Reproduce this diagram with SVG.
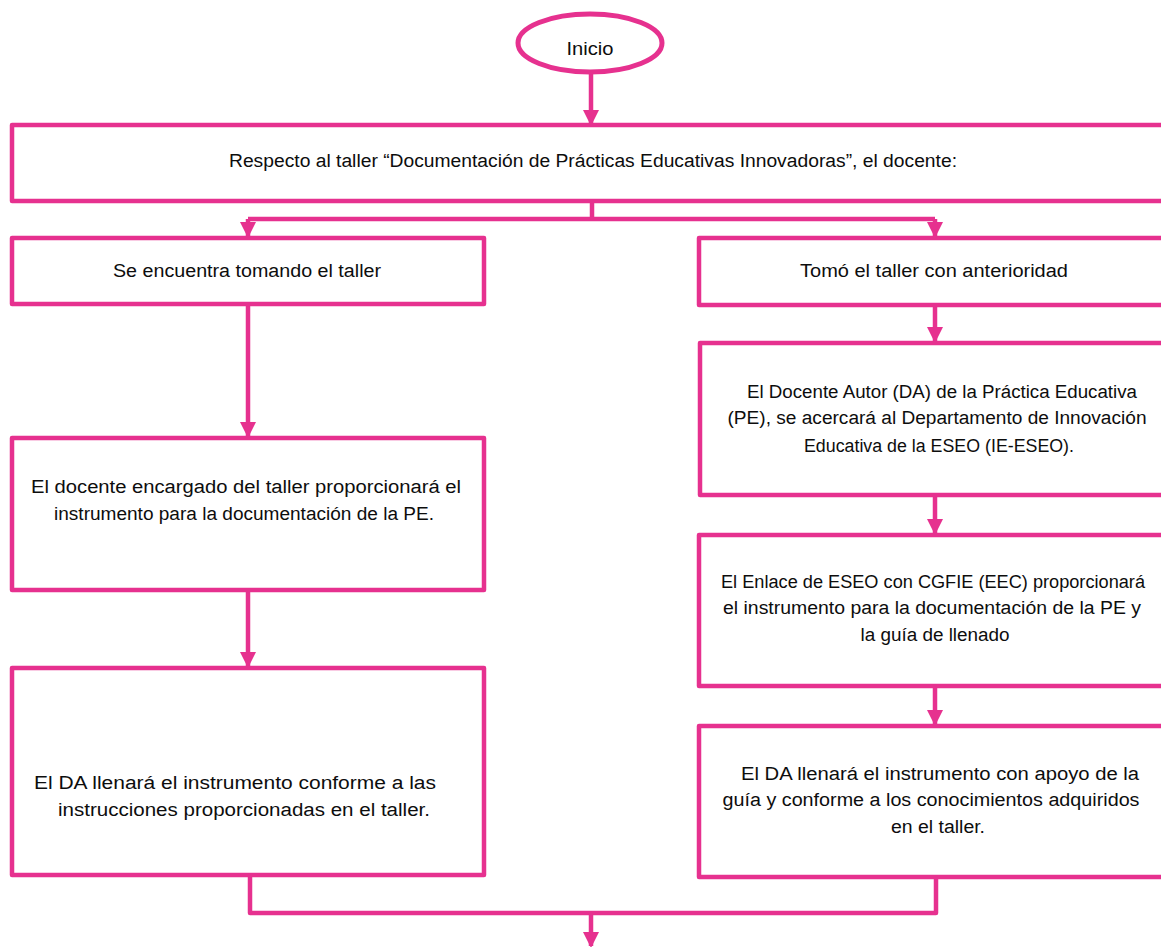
<svg xmlns="http://www.w3.org/2000/svg" width="1161" height="947" viewBox="0 0 1161 947">
<style>
.box{fill:#fff;stroke:#E6318F;stroke-width:4.5;stroke-linejoin:round}
.ln{fill:none;stroke:#E6318F;stroke-width:4.5;stroke-linejoin:round}
text{font-family:"Liberation Sans",Arial,sans-serif;font-size:18px;fill:#0d0d0d;text-anchor:middle}
</style>
<defs>
<marker id="ah" markerUnits="userSpaceOnUse" markerWidth="16" markerHeight="16" refX="14" refY="8" orient="auto" viewBox="0 0 16 16">
<path d="M0,0 L16,8 L0,16 Z" fill="#E6318F"/>
</marker>
</defs>
<rect width="1161" height="947" fill="#fff"/>
<g id="connectors">
<path class="ln" d="M591,73 V124" marker-end="url(#ah)"/>
<path class="ln" d="M592,203 V219"/>
<path class="ln" d="M248,219 H935"/>
<path class="ln" d="M248,219 V236" marker-end="url(#ah)"/>
<path class="ln" d="M935,219 V236" marker-end="url(#ah)"/>
<path class="ln" d="M935,306 V341" marker-end="url(#ah)"/>
<path class="ln" d="M935,496 V533" marker-end="url(#ah)"/>
<path class="ln" d="M935,687 V724" marker-end="url(#ah)"/>
<path class="ln" d="M248,305 V436" marker-end="url(#ah)"/>
<path class="ln" d="M248,591 V666" marker-end="url(#ah)"/>
<path class="ln" d="M250,876 V913 H936 V878"/>
<path class="ln" d="M591,913 V946" marker-end="url(#ah)"/>
</g>
<g id="inicio">
<ellipse cx="590" cy="43" rx="72" ry="29" fill="#fff" stroke="#E6318F" stroke-width="5"/>
<text x="590" y="55" textLength="47" lengthAdjust="spacingAndGlyphs">Inicio</text>
</g>
<g id="n-respecto">
<rect class="box" x="12" y="125" width="1180" height="76"/>
<text x="593" y="167" textLength="728" lengthAdjust="spacingAndGlyphs">Respecto al taller “Documentación de Prácticas Educativas Innovadoras”, el docente:</text>
</g>
<g id="n-tomando">
<rect class="box" x="12" y="238" width="472" height="66"/>
<text x="247" y="277" textLength="268" lengthAdjust="spacingAndGlyphs">Se encuentra tomando el taller</text>
</g>
<g id="n-tomo">
<rect class="box" x="699" y="238" width="490" height="67"/>
<text x="934" y="277" textLength="268" lengthAdjust="spacingAndGlyphs">Tomó el taller con anterioridad</text>
</g>
<g id="n-docente-autor">
<rect class="box" x="700" y="343" width="490" height="152"/>
<text x="942" y="398" textLength="390" lengthAdjust="spacingAndGlyphs">El Docente Autor (DA) de la Práctica Educativa</text>
<text x="937" y="424" textLength="419" lengthAdjust="spacingAndGlyphs">(PE), se acercará al Departamento de Innovación</text>
<text x="939" y="452" textLength="270" lengthAdjust="spacingAndGlyphs">Educativa de la ESEO (IE-ESEO).</text>
</g>
<g id="n-enlace">
<rect class="box" x="699" y="535" width="490" height="151"/>
<text x="933" y="588" textLength="424" lengthAdjust="spacingAndGlyphs">El Enlace de ESEO con CGFIE (EEC) proporcionará</text>
<text x="932" y="614" textLength="418" lengthAdjust="spacingAndGlyphs">el instrumento para la documentación de la PE y</text>
<text x="935" y="641" textLength="149" lengthAdjust="spacingAndGlyphs">la guía de llenado</text>
</g>
<g id="n-da-guia">
<rect class="box" x="699" y="726" width="490" height="151"/>
<text x="940" y="780" textLength="398" lengthAdjust="spacingAndGlyphs">El DA llenará el instrumento con apoyo de la</text>
<text x="931" y="806" textLength="417" lengthAdjust="spacingAndGlyphs">guía y conforme a los conocimientos adquiridos</text>
<text x="938" y="833" textLength="94" lengthAdjust="spacingAndGlyphs">en el taller.</text>
</g>
<g id="n-encargado">
<rect class="box" x="12" y="438" width="472" height="152"/>
<text x="246" y="493" textLength="430" lengthAdjust="spacingAndGlyphs">El docente encargado del taller proporcionará el</text>
<text x="244" y="520" textLength="380" lengthAdjust="spacingAndGlyphs">instrumento para la documentación de la PE.</text>
</g>
<g id="n-da-instrucciones">
<rect class="box" x="12" y="668" width="472" height="207"/>
<text x="235" y="789" textLength="402" lengthAdjust="spacingAndGlyphs">El DA llenará el instrumento conforme a las</text>
<text x="244" y="816" textLength="372" lengthAdjust="spacingAndGlyphs">instrucciones proporcionadas en el taller.</text>
</g>
</svg>
